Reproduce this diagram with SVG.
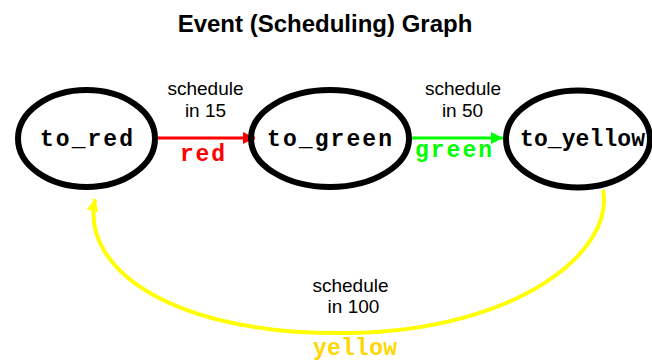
<svg xmlns="http://www.w3.org/2000/svg" width="652" height="362" viewBox="0 0 652 362">
<defs>
<style>
.node ellipse{fill:none;stroke:#000;stroke-width:6}
.nl{font-family:"Liberation Mono","DejaVu Sans Mono",monospace;font-weight:bold;font-size:23px;text-anchor:middle;fill:#000}
.el{font-family:"Liberation Mono","DejaVu Sans Mono",monospace;font-weight:bold;font-size:23px;text-anchor:middle}
.sl{font-family:"Liberation Sans",Arial,sans-serif;font-size:19px;text-anchor:middle;fill:#000}
.title{font-family:"Liberation Sans",Arial,sans-serif;font-size:24px;font-weight:bold;text-anchor:middle;fill:#000}
</style>
<marker id="ar" viewBox="0 0 10 10" refX="10" refY="5" markerWidth="13" markerHeight="12" markerUnits="userSpaceOnUse" orient="auto"><path d="M0,0 L10,5 L0,10 Z" fill="#ff0000"/></marker>
<marker id="ag" viewBox="0 0 10 10" refX="10" refY="5" markerWidth="14" markerHeight="12" markerUnits="userSpaceOnUse" orient="auto"><path d="M0,0 L10,5 L0,10 Z" fill="#00ff00"/></marker>
<marker id="ay" viewBox="0 0 10 10" refX="10" refY="5" markerWidth="14" markerHeight="12" markerUnits="userSpaceOnUse" orient="auto"><path d="M0,0 L10,5 L0,10 Z" fill="#ffff00"/></marker>
</defs>
<rect width="652" height="362" fill="#fff"/>
<text class="title" x="325" y="32">Event (Scheduling) Graph</text>
<g id="connectors">
<path d="M158,138 L255,138" stroke="#ff0000" stroke-width="3" fill="none" marker-end="url(#ar)"/>
<path d="M412,138 L503,138" stroke="#00ff00" stroke-width="3" fill="none" marker-end="url(#ag)"/>
<path d="M603,190 C615,250 520,330 350,333 C175,336 80,270 95,199" stroke="#ffff00" stroke-width="4" fill="none" marker-end="url(#ay)"/>
<text class="sl" x="205.5" y="95">schedule</text>
<text class="sl" x="205.5" y="117">in 15</text>
<text class="el" x="202.5" y="161" fill="#ff0000" textLength="45" lengthAdjust="spacing">red</text>
<text class="sl" x="463" y="95">schedule</text>
<text class="sl" x="462.5" y="117">in 50</text>
<text class="el" x="453.5" y="157" fill="#00ff00" textLength="77" lengthAdjust="spacing">green</text>
<text class="sl" x="350.5" y="292">schedule</text>
<text class="sl" x="353.5" y="313">in 100</text>
<text class="el" x="355" y="355" fill="#ffd700" textLength="84" lengthAdjust="spacing">yellow</text>
</g>
<g id="to_red" class="node">
<ellipse cx="86.5" cy="138.5" rx="68.5" ry="48.5"/>
<text class="nl" x="86.5" y="146" textLength="93" lengthAdjust="spacing">to_red</text>
</g>
<g id="to_green" class="node">
<ellipse cx="330" cy="138.5" rx="79" ry="48.5"/>
<text class="nl" x="329.5" y="146" textLength="125" lengthAdjust="spacing">to_green</text>
</g>
<g id="to_yellow" class="node">
<ellipse cx="578" cy="139" rx="72" ry="48.5"/>
<text class="nl" x="582.5" y="146" textLength="125" lengthAdjust="spacing">to_yellow</text>
</g>
</svg>
